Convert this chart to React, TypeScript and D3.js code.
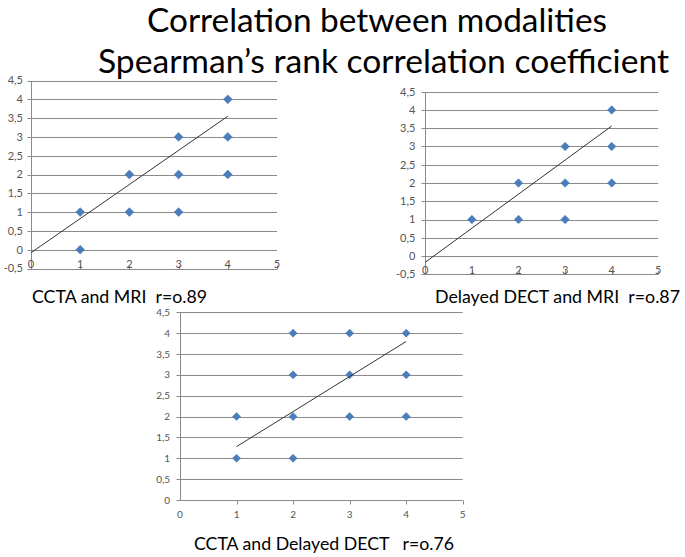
import React from 'react';
import * as d3 from 'd3';

const titleLines = ['Correlation between modalities', 'Spearman\u2019s rank correlation coefficient'];
const captions = ['CCTA and MRI  r=o.89', 'Delayed DECT and MRI  r=o.87', 'CCTA and Delayed DECT   r=o.76'];

const xTickValues = [0, 1, 2, 3, 4, 5];
const yTicksTop = [-0.5, 0, 0.5, 1, 1.5, 2, 2.5, 3, 3.5, 4, 4.5];
const yTicksBottom = [0, 0.5, 1, 1.5, 2, 2.5, 3, 3.5, 4, 4.5];

// CCTA vs MRI
const cctaMriX = [1, 1, 2, 2, 3, 3, 3, 4, 4, 4];
const cctaMriY = [1, 0, 2, 1, 3, 2, 1, 4, 3, 2];
const cctaMriTrendX = [0, 4];
const cctaMriTrendY = [-0.08, 3.55];

// Delayed DECT vs MRI
const dectMriX = [1, 2, 2, 3, 3, 3, 4, 4, 4];
const dectMriY = [1, 2, 1, 3, 2, 1, 4, 3, 2];
const dectMriTrendX = [0, 4];
const dectMriTrendY = [-0.17, 3.56];

// CCTA vs Delayed DECT
const cctaDectX = [1, 1, 2, 2, 2, 2, 3, 3, 3, 4, 4, 4];
const cctaDectY = [2, 1, 4, 3, 2, 1, 4, 3, 2, 4, 3, 2];
const cctaDectTrendX = [1, 4];
const cctaDectTrendY = [1.28, 3.8];

const fmt = (v: number) => String(v).replace('.', ',');

const diamondType = {
  draw(context: any, size: number) {
    const r = Math.sqrt(size / 2);
    context.moveTo(0, -r);
    context.lineTo(r, 0);
    context.lineTo(0, r);
    context.lineTo(-r, 0);
    context.closePath();
  },
};

type Frame = {
  left: number; right: number; top: number; bottom: number;
  yMin: number; yMax: number; labelGap: number; fontSize: number;
  xLabelY: number; xTickDir: number; markerR: number;
};

function Panel({ xs, ys, tx, ty, yTicks, f }: { xs: number[]; ys: number[]; tx: number[]; ty: number[]; yTicks: number[]; f: Frame }) {
  const x = d3.scaleLinear().domain([0, 5]).range([f.left, f.right]);
  const y = d3.scaleLinear().domain([f.yMin, f.yMax]).range([f.bottom, f.top]);
  const sym = d3.symbol(diamondType as any, 2 * f.markerR * f.markerR)();
  const line = d3.line<number>().x((d, i) => x(tx[i])).y((d, i) => y(ty[i]));
  const c = (v: number) => Math.round(v) + 0.5;
  const gridColor = '#8a8a8a';
  const axisY = y(f.yMin);
  return (
    <g>
      {yTicks.map((t) => (
        <line key={'g' + t} x1={c(x(0)) - 4} x2={x(5)} y1={c(y(t))} y2={c(y(t))} stroke={gridColor} strokeWidth={1} />
      ))}
      <line x1={c(x(0))} x2={c(x(0))} y1={c(y(f.yMax))} y2={c(axisY)} stroke={gridColor} strokeWidth={1} />
      {xTickValues.slice(1).map((t) => (
        <line key={'xt' + t} x1={c(x(t))} x2={c(x(t))} y1={c(axisY)} y2={c(axisY) + 4 * f.xTickDir} stroke={gridColor} strokeWidth={1} />
      ))}
      {yTicks.map((t) => (
        <text key={'yl' + t} x={x(0) - f.labelGap} y={y(t)} dy="0.35em" textAnchor="end" fontSize={f.fontSize} fill="#555" fontFamily="Lato, 'Open Sans', sans-serif">{fmt(t)}</text>
      ))}
      {xTickValues.map((t) => (
        <text key={'xl' + t} x={x(t)} y={f.xLabelY} textAnchor="middle" fontSize={f.fontSize} fill="#555" fontFamily="Lato, 'Open Sans', sans-serif">{fmt(t)}</text>
      ))}
      {xs.map((v, i) => (
        <path key={'p' + i} d={sym as string} transform={`translate(${x(v)},${y(ys[i])})`} fill="#4A7EBB" stroke="#4577b2" strokeWidth={0.6} />
      ))}
      <path d={line(tx) as string} fill="none" stroke="#333" strokeWidth={1} />
    </g>
  );
}

export default function App() {
  const tl: Frame = { left: 31, right: 277, top: 80.5, bottom: 268.5, yMin: -0.5, yMax: 4.5, labelGap: 8, fontSize: 11, xLabelY: 268, xTickDir: -1, markerR: 4.4 };
  const tr: Frame = { left: 425.3, right: 658.3, top: 91.7, bottom: 274.3, yMin: -0.5, yMax: 4.5, labelGap: 10, fontSize: 11, xLabelY: 274, xTickDir: -1, markerR: 4.2 };
  const bt: Frame = { left: 180, right: 462.7, top: 312.3, bottom: 500, yMin: 0, yMax: 4.5, labelGap: 10, fontSize: 10, xLabelY: 518, xTickDir: 1, markerR: 4 };
  const font = "Lato, 'Open Sans', sans-serif";
  return (
    <svg width={685} height={557} style={{ position: 'absolute', left: 0, top: 0, background: '#fff' }}>
      <rect width={685} height={557} fill="#fff" />
      <Panel xs={cctaMriX} ys={cctaMriY} tx={cctaMriTrendX} ty={cctaMriTrendY} yTicks={yTicksTop} f={tl} />
      <Panel xs={dectMriX} ys={dectMriY} tx={dectMriTrendX} ty={dectMriTrendY} yTicks={yTicksTop} f={tr} />
      <Panel xs={cctaDectX} ys={cctaDectY} tx={cctaDectTrendX} ty={cctaDectTrendY} yTicks={yTicksBottom} f={bt} />
      <text x={147} y={32} fontSize={33} fontFamily={font} fill="#000" textLength={460} lengthAdjust="spacingAndGlyphs">{titleLines[0]}</text>
      <text x={98} y={73} fontSize={33} fontFamily={font} fill="#000" textLength={571} lengthAdjust="spacingAndGlyphs">{titleLines[1]}</text>
      <text x={32} y={303} fontSize={17.5} fontFamily={font} fill="#000" style={{ whiteSpace: 'pre' }} textLength={175} lengthAdjust="spacingAndGlyphs">{captions[0]}</text>
      <text x={435} y={303} fontSize={17} fontFamily={font} fill="#000" style={{ whiteSpace: 'pre' }} textLength={245} lengthAdjust="spacingAndGlyphs">{captions[1]}</text>
      <text x={194} y={550} fontSize={17.5} fontFamily={font} fill="#000" style={{ whiteSpace: 'pre' }} textLength={260} lengthAdjust="spacingAndGlyphs">{captions[2]}</text>
    </svg>
  );
}
